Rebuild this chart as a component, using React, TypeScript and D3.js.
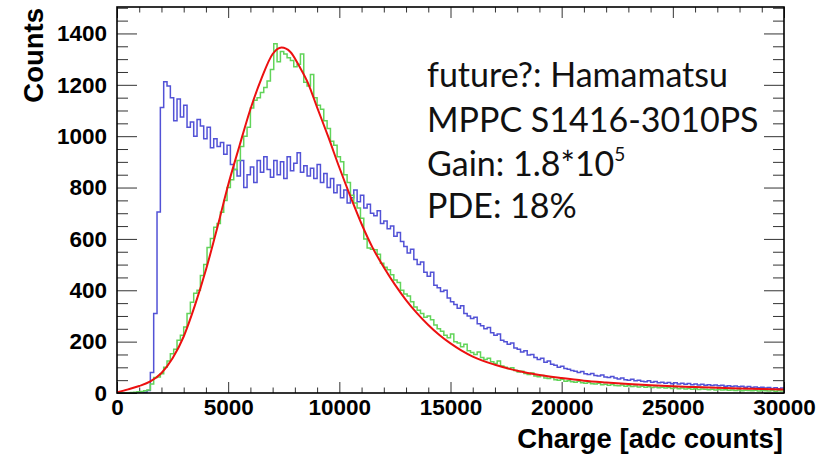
import React, { useEffect, useRef } from 'react';
import * as d3 from 'd3';

// histogram bins: 200 bins of 150 adc counts, 0..30000
const BIN_WIDTH = 150;

const blueCounts = [
  0, 0, 0, 0, 0, 0, 0, 0, 3, 10,
  80, 310, 705, 1112, 1212, 1195, 1150, 1060, 1145, 1075,
  1120, 1035, 1055, 1000, 1065, 1040, 990, 1035, 955, 990,
  960, 975, 930, 965, 890, 870, 845, 905, 800, 850,
  880, 820, 905, 860, 920, 870, 840, 905, 850, 900,
  835, 920, 865, 895, 935, 860, 885, 845, 875, 835,
  890, 820, 855, 800, 835, 780, 810, 760, 790, 740,
  760, 790, 745, 770, 720, 735, 700, 690, 710, 660,
  670, 640, 650, 610, 625, 590, 570, 545, 560, 520,
  500, 510, 470, 455, 470, 420, 410, 395, 400, 370,
  355, 345, 330, 340, 310, 300, 290, 295, 270, 262,
  250, 255, 235, 225, 230, 205, 200, 190, 195, 175,
  170, 160, 165, 148, 150, 138, 130, 135, 120, 125,
  112, 108, 100, 104, 95, 92, 88, 85, 80, 84,
  75, 72, 76, 68, 66, 70, 62, 60, 64, 58,
  55, 58, 52, 50, 54, 48, 50, 46, 44, 48,
  42, 45, 40, 42, 38, 41, 36, 40, 35, 38,
  34, 37, 32, 35, 31, 34, 30, 32, 29, 31,
  28, 30, 26, 28, 25, 27, 24, 26, 22, 25,
  21, 23, 20, 22, 19, 21, 18, 20, 17, 19,
];

const greenCounts = [
  0, 0, 0, 1, 2, 3, 5, 6, 9, 12,
  35, 60, 62, 75, 100, 125, 153, 170, 205, 225,
  257, 310, 353, 388, 400, 458, 500, 567, 602, 645,
  660, 704, 750, 800, 830, 870, 905, 960, 1000, 1035,
  1110, 1140, 1150, 1170, 1190, 1215, 1260, 1360, 1290, 1330,
  1320, 1305, 1295, 1270, 1280, 1320, 1210, 1195, 1240, 1150,
  1120, 1105, 1060, 1030, 980, 965, 920, 900, 850, 820,
  770, 740, 720, 680, 600, 565, 560, 558, 540, 505,
  490, 480, 460, 440, 430, 400, 385, 378, 355, 335,
  322, 310, 295, 300, 285, 265, 250, 240, 225, 215,
  230, 200, 195, 180, 190, 165, 158, 150, 160, 138,
  130, 135, 122, 115, 125, 105, 100, 95, 98, 88,
  82, 85, 76, 72, 78, 66, 63, 68, 58, 56,
  60, 52, 50, 54, 46, 48, 44, 42, 46, 40,
  38, 41, 36, 35, 38, 32, 34, 30, 33, 29,
  28, 31, 26, 28, 25, 27, 23, 26, 22, 24,
  21, 23, 20, 22, 19, 21, 18, 20, 17, 19,
  16, 18, 15, 17, 14, 16, 15, 13, 15, 12,
  14, 12, 13, 11, 12, 10, 12, 9, 11, 10,
  9, 11, 8, 10, 9, 8, 10, 7, 9, 8,
];

// fit curve (red)
const fitAdc = [
  0, 500, 1000, 1500, 2000, 2500, 3000, 3500, 4000, 4500, 5000, 5500, 6000, 6500,
  7000, 7400, 7800, 8200, 8600, 9000, 9500, 10000, 10500, 11000, 11500, 12000,
  12500, 13000, 13500, 14000, 14500, 15000, 15500, 16000, 17000, 18000, 19000,
  20000, 21000, 22000, 23000, 24000, 25000, 26000, 27000, 28000, 29000, 30000,
];
const fitCounts = [
  3, 14, 27, 45, 78, 135, 220, 340, 480, 640, 810, 960, 1105, 1225,
  1320, 1345, 1328, 1272, 1205, 1112, 998, 878, 765, 658, 565, 490,
  422, 362, 310, 265, 226, 193, 165, 142, 110, 87, 70,
  58, 48, 41, 35, 30, 26, 23, 20, 18, 16, 14,
];

const xMajorTicks = [0, 5000, 10000, 15000, 20000, 25000, 30000];
const yMajorTicks = [0, 200, 400, 600, 800, 1000, 1200, 1400];

const infoLines = ['future?: Hamamatsu', 'MPPC S1416-3010PS', 'Gain: 1.8*10', 'PDE: 18%'];
const infoBaselines = [87, 132, 176, 218];

const App: React.FC = () => {
  const svgRef = useRef<SVGSVGElement>(null);

  useEffect(() => {
    if (!svgRef.current) return;
    const svg = d3.select(svgRef.current);
    svg.selectAll('*').remove();

    const left = 117, right = 784, top = 7, bottom = 393;
    const x = d3.scaleLinear().domain([0, 30000]).range([left, right]);
    const y = d3.scaleLinear().domain([0, 1503]).range([bottom, top]);

    const axisFont = "'Liberation Sans', Arial, Helvetica, sans-serif";

    svg.append('defs').append('clipPath').attr('id', 'plot-clip')
      .append('rect').attr('x', left).attr('y', top).attr('width', right - left).attr('height', bottom - top);

    // minor ticks
    const xMinor = d3.range(0, 30001, 1000).filter(v => v % 5000 !== 0);
    const yMinor = d3.range(0, 1501, 50).filter(v => v % 200 !== 0);

    const tickStyle = (g: d3.Selection<SVGGElement, unknown, null, undefined>) => {
      g.select('.domain').remove();
      g.selectAll('line').attr('stroke', '#333').attr('stroke-width', 1);
    };

    svg.append('g').attr('transform', `translate(0,${bottom})`)
      .call(d3.axisBottom(x).tickValues(xMinor).tickSize(-5.5).tickFormat(() => ''))
      .call(tickStyle);
    svg.append('g').attr('transform', `translate(0,${top})`)
      .call(d3.axisTop(x).tickValues(xMinor).tickSize(-5.5).tickFormat(() => ''))
      .call(tickStyle);
    svg.append('g').attr('transform', `translate(0,${top})`)
      .call(d3.axisTop(x).tickValues(xMajorTicks).tickSize(-11).tickFormat(() => ''))
      .call(tickStyle);
    svg.append('g').attr('transform', `translate(${left},0)`)
      .call(d3.axisLeft(y).tickValues(yMinor).tickSize(-11).tickFormat(() => ''))
      .call(tickStyle);
    svg.append('g').attr('transform', `translate(${right},0)`)
      .call(d3.axisRight(y).tickValues(yMinor).tickSize(-11).tickFormat(() => ''))
      .call(tickStyle);
    svg.append('g').attr('transform', `translate(${right},0)`)
      .call(d3.axisRight(y).tickValues(yMajorTicks).tickSize(-20).tickFormat(() => ''))
      .call(tickStyle);

    // major ticks with labels
    const xAxis = svg.append('g').attr('transform', `translate(0,${bottom})`)
      .call(d3.axisBottom(x).tickValues(xMajorTicks).tickSize(-11).tickPadding(6).tickFormat(d => String(d)))
      .call(tickStyle);
    xAxis.selectAll('text')
      .attr('font-family', axisFont).attr('font-weight', 'bold').attr('font-size', 22.5).attr('fill', '#000');

    const yAxis = svg.append('g').attr('transform', `translate(${left},0)`)
      .call(d3.axisLeft(y).tickValues(yMajorTicks).tickSize(-20).tickPadding(10).tickFormat(d => String(d)))
      .call(tickStyle);
    yAxis.selectAll('text')
      .attr('font-family', axisFont).attr('font-weight', 'bold').attr('font-size', 22.5).attr('fill', '#000');

    // histograms
    const histLine = d3.line<[number, number]>()
      .x(d => x(d[0]))
      .y(d => y(d[1]))
      .curve(d3.curveStepAfter);

    const histPoints = (counts: number[]): [number, number][] => {
      const pts = counts.map((c, i) => [i * BIN_WIDTH, c] as [number, number]);
      pts.push([counts.length * BIN_WIDTH, counts[counts.length - 1]]);
      return pts;
    };

    const plot = svg.append('g').attr('clip-path', 'url(#plot-clip)');

    plot.append('path')
      .attr('d', histLine(histPoints(blueCounts)))
      .attr('fill', 'none')
      .attr('stroke', '#5252d6')
      .attr('stroke-width', 1.5);

    plot.append('path')
      .attr('d', histLine(histPoints(greenCounts)))
      .attr('fill', 'none')
      .attr('stroke', '#62d45a')
      .attr('stroke-width', 1.5);

    const fitLine = d3.line<number>()
      .x((_, i) => x(fitAdc[i]))
      .y(d => y(d))
      .curve(d3.curveMonotoneX);

    plot.append('path')
      .attr('d', fitLine(fitCounts))
      .attr('fill', 'none')
      .attr('stroke', '#ec1010')
      .attr('stroke-width', 2);

    // frame
    svg.append('rect')
      .attr('x', left).attr('y', top)
      .attr('width', right - left).attr('height', bottom - top)
      .attr('fill', 'none')
      .attr('stroke', '#000')
      .attr('stroke-width', 1.6);

    // axis titles
    svg.append('text')
      .attr('x', right - 1).attr('y', 448)
      .attr('text-anchor', 'end')
      .attr('font-family', axisFont).attr('font-weight', 'bold').attr('font-size', 27.5)
      .attr('fill', '#000')
      .text('Charge [adc counts]');

    svg.append('text')
      .attr('transform', `translate(43,${top + 1}) rotate(-90)`)
      .attr('text-anchor', 'end')
      .attr('font-family', axisFont).attr('font-weight', 'bold').attr('font-size', 27.5)
      .attr('fill', '#000')
      .text('Counts');

    // info text
    const info = svg.append('g')
      .attr('font-family', "Lato, 'Open Sans', sans-serif")
      .attr('font-size', 34)
      .attr('fill', '#111');
    infoLines.forEach((line, i) => {
      const t = info.append('text').attr('x', 427).attr('y', infoBaselines[i]).text(line);
      if (i === 2) {
        t.append('tspan').attr('dy', -15).attr('font-size', 19).text('5');
      }
    });
  }, []);

  return (
    <svg
      ref={svgRef}
      width={826}
      height={457}
      viewBox="0 0 826 457"
      style={{ position: 'absolute', left: 0, top: 0, background: '#fff' }}
    />
  );
};

export default App;
